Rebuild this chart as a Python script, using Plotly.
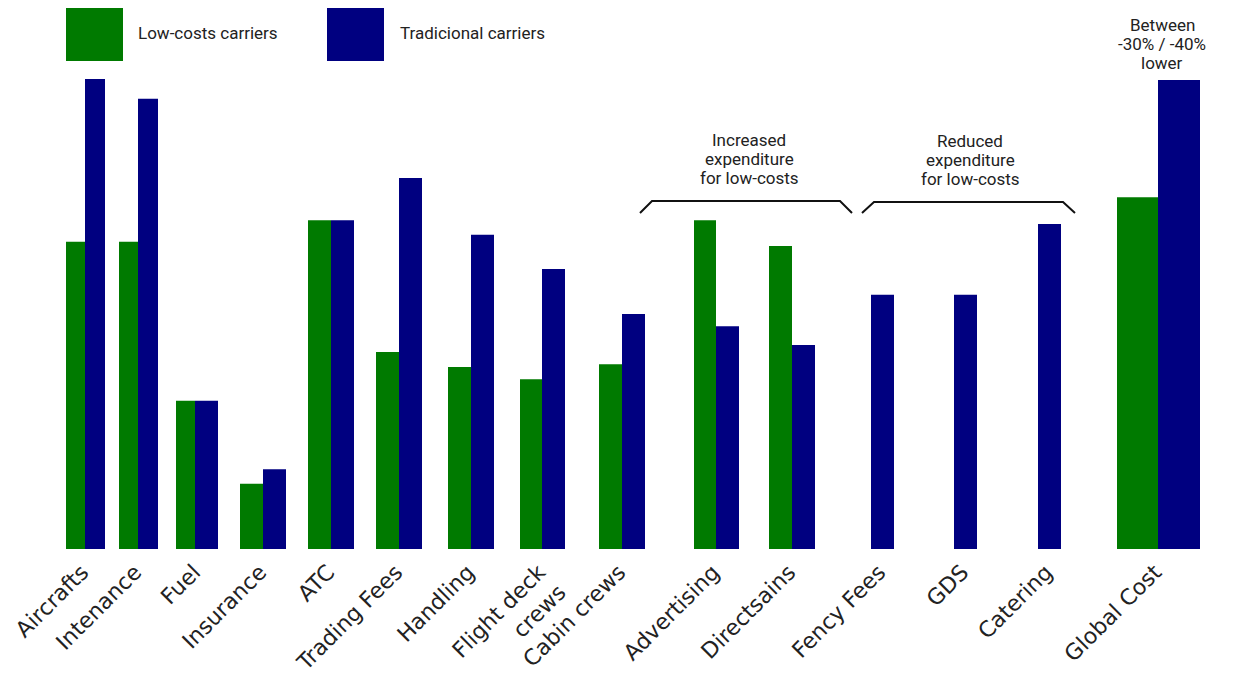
import plotly.graph_objects as go

# ---- data ----
categories = ["Aircrafts", "Intenance", "Fuel", "Insurance", "ATC", "Trading Fees",
              "Handling", "Flight deck<br>crews", "Cabin crews", "Advertising",
              "Directsains", "Fency Fees", "GDS", "Catering", "Global Cost"]
low_cost = [65.5, 65.5, 31.6, 13.9, 70.1, 42.0, 38.8, 36.2, 39.4, 70.1, 64.6,
            None, None, None, 75.0]
traditional = [100.2, 96.0, 31.6, 17.0, 70.1, 79.1, 67.0, 59.7, 50.1, 47.5, 43.5,
               54.2, 54.2, 69.3, 100.0]

# ---- layout (pixel positions on a 0..1242 axis) ----
green_left = [66, 119, 176, 240, 308, 376, 448, 520, 599, 694, 769, None, None, None, 1117]
green_w = [19, 19, 19, 23, 23, 23, 23, 22, 23, 22, 23, 0, 0, 0, 41]
blue_left = [85, 138, 195, 263, 331, 399, 471, 542, 622, 716, 792, 871, 954, 1038, 1158]
blue_w = [20, 20, 23, 23, 23, 23, 23, 23, 23, 23, 23, 23, 23, 23, 42]
tick_pos = [85, 138, 197, 263, 331, 399, 471, 542, 622, 716, 792, 882, 965, 1049, 1158]

GREEN = "#007A00"
BLUE = "#000080"
TXT = "#222222"
BASE = 549
PX = 4.69
YTOP = BASE / PX


def ypx(p):
    return (BASE - p) / PX


gx = [l if l is not None else 0 for l in green_left]
fig = go.Figure()
fig.add_trace(go.Bar(x=gx, y=low_cost, width=green_w, offset=0,
                     marker=dict(color=GREEN, line=dict(width=0)),
                     name="Low-costs carriers", showlegend=False))
fig.add_trace(go.Bar(x=blue_left, y=traditional, width=blue_w, offset=0,
                     marker=dict(color=BLUE, line=dict(width=0)),
                     name="Tradicional carriers", showlegend=False))

shapes = []
# legend squares
shapes.append(dict(type="rect", xref="x", yref="y", x0=66, x1=123, y0=ypx(61), y1=ypx(8),
                   fillcolor=GREEN, line=dict(width=0)))
shapes.append(dict(type="rect", xref="x", yref="y", x0=327, x1=384, y0=ypx(61), y1=ypx(8),
                   fillcolor=BLUE, line=dict(width=0)))
# brackets
for (a, b, c, d, top, bot) in [(640, 652, 840, 852, 201, 213), (862, 874, 1063, 1075, 202, 213)]:
    shapes.append(dict(type="path", xref="x", yref="y",
                       path=f"M {a},{ypx(bot)} L {b},{ypx(top)} L {c},{ypx(top)} L {d},{ypx(bot)}",
                       line=dict(color="#111111", width=2)))

FONT = "Roboto, sans-serif"
ann = []


def label(x, ycenter, text, anchor="center"):
    ann.append(dict(x=x, y=ypx(ycenter), text=text, xanchor=anchor, yanchor="middle",
                    showarrow=False, font=dict(family=FONT, size=17, color=TXT)))


label(136, 33, "Low-costs carriers", "left")
label(398, 33, "Tradicional carriers", "left")
for i, t in enumerate(["Increased", "expenditure", "for low-costs"]):
    label(749, 140 + 19 * i, t)
for i, t in enumerate(["Reduced", "expenditure", "for low-costs"]):
    label(970, 141 + 19 * i, t)
for i, t in enumerate(["Between", "-30% / -40%", "lower"]):
    label(1162, 25 + 19 * i, t)
for a in ann:
    a["xref"] = "x"
    a["yref"] = "y"

fig.update_layout(
    width=1242, height=674,
    margin=dict(l=0, r=0, t=0, b=674 - BASE),
    paper_bgcolor="white", plot_bgcolor="white",
    barmode="overlay",
    shapes=shapes, annotations=ann,
    xaxis=dict(range=[0, 1242], tickmode="array", tickvals=tick_pos, ticktext=categories,
               tickangle=-45, showgrid=False, zeroline=False, showline=False, ticks="",
               automargin=False, ticklabelstandoff=5, ticklabelshift=-3,
               tickfont=dict(family="DejaVu Sans", size=22, color=TXT)),
    yaxis=dict(range=[0, YTOP], visible=False, showgrid=False, zeroline=False),
    showlegend=False,
)
fig.write_html("out.html")
